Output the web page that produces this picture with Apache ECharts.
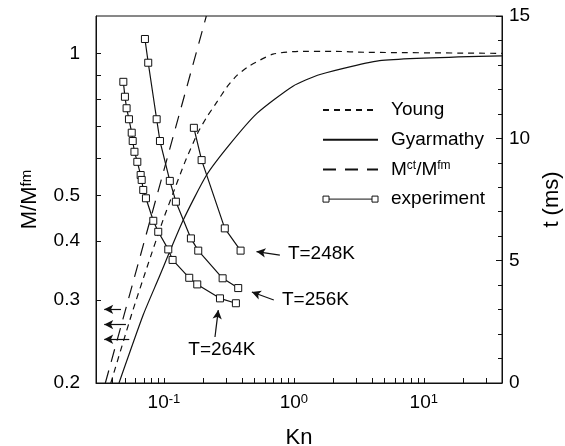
<!DOCTYPE html>
<html><head><meta charset="utf-8">
<script src="https://cdn.jsdelivr.net/npm/echarts@6/dist/echarts.min.js"></script>
<style>html,body{margin:0;padding:0;background:#fff}#c{width:565px;height:446px}</style>
</head><body><div id="c"></div>
<script>
const FONT = 'Liberation Sans, Arial, Helvetica, sans-serif';

// Theory curves: M/M^fm versus Kn (left axis)
const youngKn = [0.039, 0.0567, 0.0741, 0.0984, 0.1175, 0.145, 0.183, 0.214, 0.256, 0.305, 0.365, 0.459, 0.69, 1.11, 2.0, 3.65, 40];
const youngM  = [0.2, 0.281, 0.352, 0.443, 0.505, 0.588, 0.68, 0.733, 0.789, 0.848, 0.898, 0.942, 0.996, 1.01, 1.01, 1.005, 1.0];
const gyarKn = [0.0451, 0.0693, 0.090, 0.1408, 0.213, 0.322, 0.52, 0.984, 1.59, 4.76, 40];
const gyarM  = [0.2, 0.279, 0.331, 0.443, 0.552, 0.642, 0.746, 0.852, 0.902, 0.966, 0.988];
const ctKn = [0.0354, 0.212];
const ctM  = [0.2, 1.2];

// Experiment: t (ms) versus Kn (right axis)
const exp264Kn = [0.0487,0.0501,0.0516,0.0538,0.0565,0.0575,0.0593,0.0624,0.0662,0.0674,0.0693,0.0727,0.0828,0.0904,0.108,0.1166,0.1566,0.1805,0.270,0.358];
const exp264T  = [12.31,11.70,11.23,10.78,10.23,9.89,9.45,9.04,8.50,8.30,7.89,7.55,6.63,6.18,5.46,5.03,4.30,4.03,3.46,3.26];
const exp256Kn = [0.0714,0.0757,0.0879,0.0932,0.111,0.1236,0.1613,0.1837,0.283,0.373];
const exp256T  = [14.06,13.09,10.78,9.89,8.26,7.41,5.91,5.41,4.28,3.88];
const exp248Kn = [0.170,0.195,0.294,0.389];
const exp248T  = [10.43,9.11,6.32,5.41];

// Axis ticks / labels
const xLabelValues = [0.1, 1, 10];
const xTickValues = [0.04,0.05,0.06,0.07,0.08,0.09,0.1,0.2,0.3,0.4,0.5,0.6,0.7,0.8,0.9,1,2,3,4,5,6,7,8,9,10,20,30];
const leftLabelValues = [0.2, 0.3, 0.4, 0.5, 1];
const leftTickValues = [0.3, 0.4, 0.5, 0.6, 0.7, 0.8, 0.9, 1];

// Annotations: left arrows (M/M^fm) and temperature labels (t, ms)
const leftArrowM = [0.2866, 0.266, 0.2476];
const leftArrowHeadKn = [0.0347, 0.0347, 0.0347];
const leftArrowTailKn = [0.0467, 0.051, 0.0541];
const tempLabels = ['T=248K', 'T=256K', 'T=264K'];
const tempLabelKn = [0.90, 0.81, 0.279];
const tempLabelT = [5.29, 3.39, 1.35];
const tempArrowTailKn = [0.780, 0.701, 0.247];
const tempArrowTailT = [5.23, 3.39, 1.88];
const tempArrowHeadKn = [0.516, 0.475, 0.262];
const tempArrowHeadT = [5.37, 3.72, 2.98];

const zip = (a, b) => a.map((v, i) => [v, b[i]]);
const black = '#111';
const LW = 1.2;

const leftArrows = leftArrowM.map((m, i) => [
  { coord: [leftArrowTailKn[i], m] },
  { coord: [leftArrowHeadKn[i], m] }
]);
const tempArrows = tempLabels.map((_, i) => [
  { coord: [tempArrowTailKn[i], tempArrowTailT[i]] },
  { coord: [tempArrowHeadKn[i], tempArrowHeadT[i]] }
]);
const tempPoints = tempLabels.map((t, i) => ({
  coord: [tempLabelKn[i], tempLabelT[i]],
  label: {
    show: true, formatter: t, position: 'inside',
    align: i === 2 ? 'center' : 'left', verticalAlign: 'middle',
    fontSize: 19, fontFamily: FONT, color: '#000'
  }
}));

const expSeries = (kn, t, extra) => Object.assign({
  name: 'experiment', type: 'line', yAxisIndex: 1,
  data: zip(kn, t), symbol: 'rect', symbolSize: 7, showSymbol: true,
  itemStyle: { color: '#fff', borderColor: black, borderWidth: 1 },
  lineStyle: { color: black, width: LW },
  animation: false, silent: true, z: 3
}, extra || {});

const chart = echarts.init(document.getElementById('c'), null, { renderer: 'canvas' });
chart.setOption({
  backgroundColor: '#fff',
  animation: false,
  grid: { left: 96, right: 63, top: 16, bottom: 63, show: true, borderColor: black, borderWidth: 1, backgroundColor: 'transparent', outerBoundsMode: 'none' },
  legend: {
    left: 317, top: 95, orient: 'vertical', itemWidth: 55, itemHeight: 7, itemGap: 9.7,
    selectedMode: false,
    data: [
      { name: 'Young', itemStyle: { opacity: 0 } },
      { name: 'Gyarmathy', itemStyle: { opacity: 0 } },
      { name: 'Mct', itemStyle: { opacity: 0 } },
      { name: 'experiment', icon: 'path://M0,0L6,0L6,6L0,6Z M49,0L55,0L55,6L49,6Z M6,3L49,3', itemStyle: { color: '#fff', borderColor: black, borderWidth: 1, opacity: 1 } }
    ],
    formatter: n => n === 'Mct' ? 'M{sup|ct}/M{sup|fm}' : n,
    textStyle: {
      fontSize: 19, fontFamily: FONT, color: '#000', lineHeight: 20, padding: [0, 0, 0, 8],
      rich: { sup: { fontSize: 12, fontFamily: FONT, color: '#000', verticalAlign: 'top', lineHeight: 12 } }
    }
  },
  xAxis: {
    type: 'log', logBase: 10, min: 0.03, max: 40,
    name: 'Kn', nameLocation: 'middle', nameGap: 44,
    nameTextStyle: { fontSize: 22, fontFamily: FONT, color: '#000' },
    axisLine: { show: true, lineStyle: { color: black, width: 1 } },
    axisTick: { show: true, inside: true, length: 5, customValues: xTickValues, lineStyle: { color: black } },
    axisLabel: {
      customValues: xLabelValues, margin: 10,
      formatter: v => '10{sup|' + Math.round(Math.log10(v)) + '}',
      fontSize: 19, fontFamily: FONT, color: '#000',
      rich: { sup: { fontSize: 13, fontFamily: FONT, color: '#000', verticalAlign: 'top', lineHeight: 12 } }
    },
    splitLine: { show: false }, minorSplitLine: { show: false }
  },
  yAxis: [
    {
      type: 'log', logBase: 10, min: 0.2, max: 1.2, position: 'left',
      name: 'M/M{sup|fm}', nameLocation: 'middle', nameGap: 55, nameRotate: 90,
      nameTextStyle: { fontSize: 22, fontFamily: FONT, color: '#000',
        rich: { sup: { fontSize: 15, fontFamily: FONT, color: '#000', verticalAlign: 'top', lineHeight: 14 } } },
      axisLine: { show: true, lineStyle: { color: black, width: 1 } },
      axisTick: { show: true, inside: true, length: 5, customValues: leftTickValues, lineStyle: { color: black } },
      axisLabel: { customValues: leftLabelValues, margin: 16, formatter: v => String(+(+v).toFixed(2)),
        fontSize: 19, fontFamily: FONT, color: '#000' },
      splitLine: { show: false }
    },
    {
      type: 'value', min: 0, max: 15, interval: 5, position: 'right',
      name: 't (ms)', nameLocation: 'middle', nameGap: 38, nameRotate: 90,
      nameTextStyle: { fontSize: 22, fontFamily: FONT, color: '#000' },
      axisLine: { show: true, lineStyle: { color: black, width: 1 } },
      axisTick: { show: true, inside: true, length: 6, lineStyle: { color: black } },
      minorTick: { show: true, splitNumber: 5, length: 4, lineStyle: { color: black } },
      axisLabel: { margin: 7, fontSize: 19, fontFamily: FONT, color: '#000' },
      splitLine: { show: false }, minorSplitLine: { show: false }
    }
  ],
  series: [
    {
      name: 'Young', type: 'line', yAxisIndex: 0, data: zip(youngKn, youngM),
      showSymbol: false, symbol: 'none', smooth: 0.2, silent: true,
      lineStyle: { color: black, width: LW, type: [6, 5] }, itemStyle: { color: black },
      markLine: {
        silent: true, symbol: ['none', 'arrow'], symbolSize: [7, 9],
        label: { show: false }, lineStyle: { color: black, width: LW, type: 'solid' },
        emphasis: { disabled: true }, data: leftArrows
      }
    },
    {
      name: 'Gyarmathy', type: 'line', yAxisIndex: 0, data: zip(gyarKn, gyarM),
      showSymbol: false, symbol: 'none', smooth: 0.2, silent: true,
      lineStyle: { color: black, width: LW, type: 'solid' }, itemStyle: { color: black }
    },
    {
      name: 'Mct', type: 'line', yAxisIndex: 0, data: zip(ctKn, ctM),
      showSymbol: false, symbol: 'none', silent: true,
      lineStyle: { color: black, width: LW, type: [13, 9] }, itemStyle: { color: black }
    },
    expSeries(exp264Kn, exp264T, {
      markLine: {
        silent: true, symbol: ['none', 'arrow'], symbolSize: [7, 9],
        label: { show: false }, lineStyle: { color: black, width: LW, type: 'solid' },
        emphasis: { disabled: true }, data: tempArrows
      },
      markPoint: { silent: true, symbol: 'circle', symbolSize: 0, data: tempPoints }
    }),
    expSeries(exp256Kn, exp256T),
    expSeries(exp248Kn, exp248T)
  ]
});
</script>
</body></html>
